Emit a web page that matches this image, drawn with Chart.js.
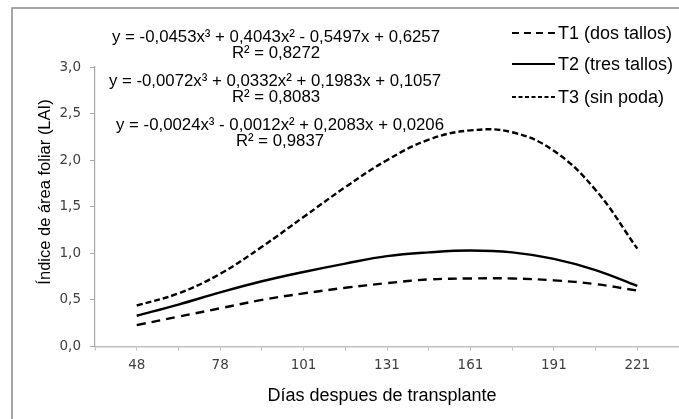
<!DOCTYPE html>
<html>
<head>
<meta charset="utf-8">
<script src="https://cdn.jsdelivr.net/npm/chart.js@4.4.1/dist/chart.umd.min.js"></script>
<style>
  html, body { margin: 0; padding: 0; overflow: hidden; background: #fff; }
  #wrap { position: relative; width: 686px; height: 419px; }
</style>
</head>
<body>
<div id="wrap"><canvas id="laiChart" width="686" height="419"></canvas></div>
<script>
// Días despues de transplante (category labels, one per sampling date)
const days = [48, 78, 101, 131, 161, 191, 221];
// sampling index for each reading (1 = 48 dias ... 7 = 221 dias), read every half step
const steps = [1, 1.5, 2, 2.5, 3, 3.5, 4, 4.5, 5, 5.5, 6, 6.5, 7];
// LAI
const t1 = [0.23, 0.32, 0.41, 0.50, 0.57, 0.63, 0.68, 0.72, 0.73, 0.73, 0.71, 0.67, 0.60];
const t2 = [0.33, 0.45, 0.58, 0.70, 0.80, 0.89, 0.97, 1.01, 1.03, 1.01, 0.94, 0.82, 0.65];
const t3 = [0.44, 0.57, 0.78, 1.07, 1.39, 1.71, 2.00, 2.22, 2.32, 2.30, 2.10, 1.68, 1.05];
const yTicks = [0, 0.5, 1, 1.5, 2, 2.5, 3];

const equations = [
  'y = -0,0453x³ + 0,4043x² - 0,5497x + 0,6257', 'R² = 0,8272',
  'y = -0,0072x³ + 0,0332x² + 0,1983x + 0,1057', 'R² = 0,8083',
  'y = -0,0024x³ - 0,0012x² + 0,2083x + 0,0206', 'R² = 0,9837'
];
const legendItems = [
  { text: 'T1 (dos tallos)', dash: [7, 5] },
  { text: 'T2 (tres tallos)', dash: [] },
  { text: 'T3 (sin poda)', dash: [4, 2.5] }
];

const pts = arr => arr.map((v, i) => ({ x: steps[i], y: v }));

// frame, equations, legend and axis titles
const decor = {
  id: 'decor',
  afterDraw(chart) {
    const c = chart.ctx;
    c.save();
    c.strokeStyle = '#8a8a8a';
    c.lineWidth = 1.5;
    c.beginPath();
    c.moveTo(12, 419);
    c.lineTo(12, 8);
    c.lineTo(686, 8);
    c.stroke();

    c.fillStyle = '#000';
    c.font = '16.8px "Liberation Sans", Arial, sans-serif';
    c.textAlign = 'center';
    c.textBaseline = 'middle';
    const eqY = [37, 53, 81, 97, 125, 141];
    const eqX = [276, 276, 275, 276, 280, 280];
    equations.forEach((t, i) => c.fillText(t, eqX[i], eqY[i]));

    c.font = '18px "Liberation Sans", Arial, sans-serif';
    c.textAlign = 'left';
    const legY = [33, 64, 97];
    legendItems.forEach((it, i) => {
      c.strokeStyle = '#000';
      c.lineWidth = 2.2;
      c.setLineDash(it.dash);
      c.beginPath();
      c.moveTo(512, legY[i]);
      c.lineTo(555, legY[i]);
      c.stroke();
      c.setLineDash([]);
      c.fillText(it.text, 558, legY[i] + 1);
    });

    c.textAlign = 'center';
    c.font = '18px "Liberation Sans", Arial, sans-serif';
    c.fillText('Días despues de transplante', 382, 396);
    c.font = '16.5px "Liberation Sans", Arial, sans-serif';
    c.translate(45, 192);
    c.rotate(-Math.PI / 2);
    c.fillText('Índice de área foliar (LAI)', 0, 0);
    c.restore();
  }
};

const lineStyle = (data, dash) => ({
  data: pts(data),
  borderColor: '#000',
  borderWidth: 2.4,
  borderDash: dash,
  pointRadius: 0,
  tension: 0.4,
  fill: false
});

const tickFont = { family: '"DejaVu Sans", sans-serif', size: 13.5 };

new Chart(document.getElementById('laiChart'), {
  type: 'line',
  data: {
    datasets: [
      { label: 'T1 (dos tallos)', ...lineStyle(t1, [9, 6]) },
      { label: 'T2 (tres tallos)', ...lineStyle(t2, []) },
      { label: 'T3 (sin poda)', ...lineStyle(t3, [6, 3]) }
    ]
  },
  options: {
    responsive: false,
    animation: false,
    layout: { padding: { top: 67, right: 4, left: 0, bottom: 0 } },
    plugins: { legend: { display: false }, tooltip: { enabled: false } },
    scales: {
      x: {
        type: 'linear',
        min: 0.5,
        max: 7.5,
        afterFit: s => { s.height = 72.5; },
        afterBuildTicks: s => {
          const t = [];
          for (let v = 0.5; v <= 7.5; v += 0.5) t.push({ value: v });
          s.ticks = t;
        },
        ticks: {
          autoSkip: false,
          maxRotation: 0,
          padding: 7,
          color: '#404040',
          font: tickFont,
          callback: v => Number.isInteger(v) ? String(days[v - 1]) : ''
        },
        grid: { drawOnChartArea: false, drawTicks: true, tickLength: 4, color: '#bfbfbf' },
        border: { color: '#bfbfbf', width: 1.5 }
      },
      y: {
        min: 0,
        max: 3,
        afterFit: s => { s.width = 95; },
        afterBuildTicks: s => { s.ticks = yTicks.map(v => ({ value: v })); },
        ticks: {
          padding: 9,
          color: '#404040',
          font: tickFont,
          callback: v => v.toFixed(1).replace('.', ',')
        },
        grid: { drawOnChartArea: false, drawTicks: true, tickLength: 5, color: '#a6a6a6' },
        border: { color: '#a6a6a6', width: 1.2 }
      }
    }
  },
  plugins: [decor]
});
</script>
</body>
</html>
